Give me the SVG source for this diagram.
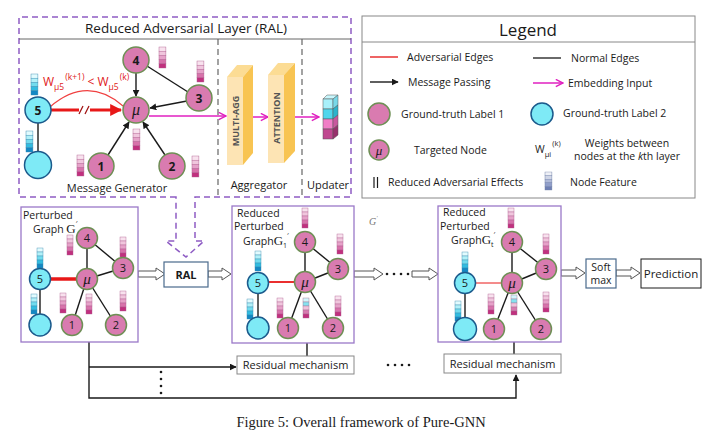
<svg xmlns="http://www.w3.org/2000/svg" xmlns:xlink="http://www.w3.org/1999/xlink" width="718" height="444" viewBox="0 0 718 444">
<style>
.sans{font-family:"Open Sans","Noto Sans","DejaVu Sans",sans-serif;fill:#1a1a1a}
.serif{font-family:"Liberation Serif","Times New Roman",serif;fill:#1a1a1a}
.np{fill:#d97bb0;stroke:#6e8f55;stroke-width:1.5}
.nc{fill:#7eeaf6;stroke:#1b5a8c;stroke-width:1.5}
.edge{stroke:#1a1a1a;stroke-width:1.4;fill:none}
.panel{fill:#fff;stroke:#9a78c8;stroke-width:1.3}
.hollow{fill:#fff;stroke:#555;stroke-width:1}
.mag{stroke:#e020c0;stroke-width:1.5;fill:none}
.box{fill:#fff;stroke:#888;stroke-width:1}
</style>
<defs>
<marker id="ab" viewBox="0 0 10 10" refX="9" refY="5" markerWidth="7" markerHeight="7" markerUnits="userSpaceOnUse" orient="auto"><path d="M0,0 L10,5 L0,10 Z" fill="#1a1a1a"/></marker>
<marker id="ar" viewBox="0 0 10 10" refX="9" refY="5" markerWidth="4" markerHeight="4" orient="auto"><path d="M0,0 L10,5 L0,10 Z" fill="#e81818"/></marker>
<marker id="am" viewBox="0 0 10 10" refX="9" refY="5" markerWidth="9" markerHeight="9" markerUnits="userSpaceOnUse" orient="auto"><path d="M1,1 L9,5 L1,9" fill="none" stroke="#e020c0" stroke-width="1.6"/></marker>
<g id="bp" stroke="#b06090" stroke-width="0.4"><rect x="0" y="0" width="6" height="4" fill="#f8e2ee"/><rect x="0" y="4" width="6" height="4" fill="#f0c6dd"/><rect x="0" y="8" width="6" height="4" fill="#e6a2c9"/><rect x="0" y="12" width="6" height="4" fill="#d872ab"/><rect x="0" y="16" width="6" height="4" fill="#c0307e"/></g>
<g id="bc" stroke="#3a8ab0" stroke-width="0.4"><rect x="0" y="0" width="6" height="4" fill="#e2fbfe"/><rect x="0" y="4" width="6" height="4" fill="#b2f0f8"/><rect x="0" y="8" width="6" height="4" fill="#72dcee"/><rect x="0" y="12" width="6" height="4" fill="#32bce0"/><rect x="0" y="16" width="6" height="4" fill="#1488c4"/></g>
<g id="bm" stroke="#a07090" stroke-width="0.4"><rect x="0" y="0" width="6" height="4" fill="#d2f6fb"/><rect x="0" y="4" width="6" height="4" fill="#86e2ef"/><rect x="0" y="8" width="6" height="4" fill="#f0c2dc"/><rect x="0" y="12" width="6" height="4" fill="#d87ab0"/><rect x="0" y="16" width="6" height="4" fill="#c0307e"/></g>
<g id="bg" stroke="#7080a8" stroke-width="0.4"><rect x="0" y="0" width="6" height="4" fill="#eef0f6"/><rect x="0" y="4" width="6" height="4" fill="#cfd5e6"/><rect x="0" y="8" width="6" height="4" fill="#b0bad8"/><rect x="0" y="12" width="6" height="4" fill="#919fca"/><rect x="0" y="16" width="6" height="4" fill="#6f80b4"/></g>
</defs>
<rect width="718" height="444" fill="#fff"/>

<!-- RAL -->
<g id="ral">
<path d="M176,197 H19 V17 H351 V197 H195 V241 H204 L186,257 L166,241 H176 Z" fill="none" stroke="#8e5cc4" stroke-width="1.5" stroke-dasharray="6,4"/>
<line x1="19" y1="39" x2="351" y2="39" stroke="#666" stroke-width="1"/>
<line x1="218" y1="39" x2="218" y2="197" stroke="#666" stroke-width="1.2" stroke-dasharray="6,4"/>
<line x1="302" y1="39" x2="302" y2="197" stroke="#666" stroke-width="1.2" stroke-dasharray="6,4"/>
<text class="sans" x="186" y="33" font-size="13.5" text-anchor="middle">Reduced Adversarial Layer (RAL)</text>
<text class="sans" x="117" y="192" font-size="11" text-anchor="middle">Message Generator</text>
<text class="sans" x="259" y="189" font-size="11" text-anchor="middle">Aggregator</text>
<text class="sans" x="328" y="189" font-size="11" text-anchor="middle">Updater</text>
</g>

<g id="ral-edges">
<line class="edge" x1="136" y1="73" x2="136" y2="96" marker-end="url(#ab)"/>
<line class="edge" x1="147" y1="66" x2="188" y2="92"/>
<line class="edge" x1="187" y1="101" x2="150" y2="108" marker-end="url(#ab)"/>
<line class="edge" x1="108" y1="155" x2="129" y2="122" marker-end="url(#ab)"/>
<line class="edge" x1="165" y1="155" x2="143" y2="122" marker-end="url(#ab)"/>
<line class="edge" x1="38" y1="123" x2="38" y2="152"/>
<path d="M50,107 Q87,75 123,106" fill="none" stroke="#f04040" stroke-width="1.2"/>
<line x1="51" y1="110" x2="121" y2="110" stroke="#e81818" stroke-width="3" marker-end="url(#ar)"/>
<rect x="79" y="106" width="11" height="8" fill="#fff"/>
<line x1="79" y1="114" x2="83" y2="106" stroke="#a01010" stroke-width="1.2"/>
<line x1="85" y1="114" x2="89" y2="106" stroke="#a01010" stroke-width="1.2"/>
<line class="mag" x1="149" y1="116" x2="226" y2="116" marker-end="url(#am)"/>
<line class="mag" x1="253" y1="117" x2="268" y2="117" marker-end="url(#am)"/>
<line class="mag" x1="295" y1="117" x2="319" y2="117" marker-end="url(#am)"/>
</g>
<text class="sans" x="43" y="86" font-size="12" style="fill:#e02020">W<tspan font-size="8.5" dy="4">μ5</tspan><tspan font-size="8.5" dy="-10" dx="1">(k+1)</tspan><tspan dy="6"> &lt; W</tspan><tspan font-size="8.5" dy="4">μ5</tspan><tspan font-size="8.5" dy="-10" dx="1">(k)</tspan></text>

<g id="ral-nodes">
<use href="#bp" transform="translate(159,47) scale(1.15,1.05)"/>
<use href="#bp" transform="translate(197,61) scale(1.15,1.05)"/>
<use href="#bc" transform="translate(31,74) scale(1.15,1.05)"/>
<use href="#bc" transform="translate(26,131) scale(1.15,1.05)"/>
<use href="#bp" transform="translate(133,129) scale(1.15,1.05)"/>
<use href="#bp" transform="translate(77,155) scale(1.15,1.05)"/>
<use href="#bp" transform="translate(192,156) scale(1.15,1.05)"/>
<g id="r-n4"><circle class="np" cx="136" cy="60" r="13"/><text class="sans" x="136" y="64.5" font-size="12" font-weight="bold" text-anchor="middle">4</text></g>
<g id="r-n3"><circle class="np" cx="199" cy="98" r="13"/><text class="sans" x="199" y="102.5" font-size="12" font-weight="bold" text-anchor="middle">3</text></g>
<g id="r-mu"><circle class="np" cx="136" cy="110" r="13"/><text class="serif" x="136" y="115" font-size="16" font-style="italic" text-anchor="middle">μ</text></g>
<g id="r-n5"><circle class="nc" cx="38" cy="110" r="13"/><text class="sans" x="38" y="114.5" font-size="12" font-weight="bold" text-anchor="middle">5</text></g>
<g id="r-n6"><circle class="nc" cx="38" cy="165" r="13.5"/></g>
<g id="r-n1"><circle class="np" cx="101" cy="166" r="13"/><text class="sans" x="101" y="170.5" font-size="12" font-weight="bold" text-anchor="middle">1</text></g>
<g id="r-n2"><circle class="np" cx="172" cy="166" r="13"/><text class="sans" x="172" y="170.5" font-size="12" font-weight="bold" text-anchor="middle">2</text></g>
</g>

<g id="multi-agg">
<polygon points="227,77 237,65 253,65 243,77" fill="#fcdc94"/>
<polygon points="243,77 253,65 253,153 243,165" fill="#f8c452"/>
<rect x="227" y="77" width="16" height="88" fill="#fde4b4"/>
<text class="sans" transform="translate(238.5,121) rotate(-90)" font-size="9" font-weight="bold" text-anchor="middle" style="fill:#555">MULTI-AGG</text>
</g>
<g id="attention">
<polygon points="268,75 278,63 295,63 284,75" fill="#fcdc94"/>
<polygon points="284,75 295,63 295,151 284,163" fill="#f8c452"/>
<rect x="268" y="75" width="16" height="88" fill="#fde4b4"/>
<text class="sans" transform="translate(279.5,118) rotate(-90)" font-size="9" font-weight="bold" text-anchor="middle" style="fill:#555">ATTENTION</text>
</g>
<g id="updater" stroke="#555" stroke-width="0.5">
<polygon points="323,99 327,95 338,95 333,99" fill="#c8f6fc"/>
<rect x="323" y="99" width="10" height="10" fill="#a8f0fa"/>
<rect x="323" y="109" width="10" height="10" fill="#50d6ec"/>
<rect x="323" y="119" width="10" height="10" fill="#f07ec6"/>
<rect x="323" y="129" width="10" height="10" fill="#c04890"/>
<polygon points="333,99 338,95 338,105 333,109" fill="#78d8e8"/>
<polygon points="333,109 338,105 338,115 333,119" fill="#2cb4cc"/>
<polygon points="333,119 338,115 338,125 333,129" fill="#c8589e"/>
<polygon points="333,129 338,125 338,135 333,139" fill="#98306c"/>
</g>

<!-- Legend -->
<g id="legend">
<rect x="362" y="16" width="333" height="182" fill="#fff" stroke="#888" stroke-width="1"/>
<line x1="362" y1="42" x2="695" y2="42" stroke="#888" stroke-width="1"/>
<text class="sans" x="528" y="36" font-size="17" text-anchor="middle">Legend</text>
<line x1="370" y1="57" x2="398" y2="57" stroke="#e83030" stroke-width="1.5"/>
<text class="sans" x="407" y="61" font-size="10.5">Adversarial Edges</text>
<line x1="533" y1="58" x2="561" y2="58" stroke="#1a1a1a" stroke-width="1.3"/>
<text class="sans" x="571" y="62" font-size="10.5">Normal Edges</text>
<line x1="370" y1="82" x2="398" y2="82" stroke="#1a1a1a" stroke-width="1.4" marker-end="url(#ab)"/>
<text class="sans" x="408" y="86" font-size="10.5">Message Passing</text>
<line class="mag" x1="533" y1="83" x2="563" y2="83" marker-end="url(#am)"/>
<text class="sans" x="568" y="87" font-size="10.5">Embedding Input</text>
<circle class="np" cx="379" cy="114" r="11"/>
<text class="sans" x="401" y="118" font-size="10.5">Ground-truth Label 1</text>
<circle class="nc" cx="542" cy="114" r="11"/>
<text class="sans" x="563" y="117" font-size="10.5">Ground-truth Label 2</text>
<circle class="np" cx="379" cy="150" r="10"/>
<text class="serif" x="379" y="154.5" font-size="13" font-style="italic" text-anchor="middle">μ</text>
<text class="sans" x="414" y="154" font-size="10.5">Targeted Node</text>
<text class="sans" x="535" y="153" font-size="10.5">W<tspan font-size="7.5" dy="4">μi</tspan><tspan font-size="7.5" dy="-11" dx="1">(k)</tspan></text>
<text class="sans" x="627" y="147" font-size="10.5" text-anchor="middle">Weights between</text>
<text class="sans" x="627" y="160" font-size="10.5" text-anchor="middle">nodes at the <tspan font-style="italic">k</tspan>th layer</text>
<line x1="374" y1="177" x2="374" y2="188" stroke="#1a1a1a" stroke-width="1.2"/>
<line x1="377.5" y1="177" x2="377.5" y2="188" stroke="#1a1a1a" stroke-width="1.2"/>
<text class="sans" x="388" y="186" font-size="10.5">Reduced Adversarial Effects</text>
<use href="#bg" transform="translate(545,172) scale(1.15,0.9)"/>
<text class="sans" x="570" y="186" font-size="10.5">Node Feature</text>
</g>

<!-- connectors of bottom row -->
<g id="connectors">
<path class="hollow" d="M138,271 H156 V268 L165,274 L156,280 V277 H138 Z"/>
<path class="hollow" d="M208,271 H222 V268 L231,274 L222,280 V277 H208 Z"/>
<path class="hollow" d="M354,271 H374 V268 L383,274 L374,280 V277 H354 Z"/>
<path class="hollow" d="M412,271 H429 V268 L438,274 L429,280 V277 H412 Z"/>
<path class="hollow" d="M561,270 H576 V267 L585,273 L576,279 V276 H561 Z"/>
<path class="hollow" d="M616,270 H631 V267 L640,273 L631,279 V276 H616 Z"/>
<polyline class="edge" points="89,314 89,398 516,398 516,375" marker-end="url(#ab)"/>
<line class="edge" x1="89" y1="367" x2="236" y2="367" marker-end="url(#ab)"/>
<line class="edge" x1="307" y1="356" x2="307" y2="319" marker-end="url(#ab)"/>
<line class="edge" x1="514" y1="354" x2="514" y2="316" marker-end="url(#ab)"/>
<g fill="#1a1a1a">
<circle cx="161" cy="372" r="1.3"/><circle cx="161" cy="379" r="1.3"/><circle cx="161" cy="386" r="1.3"/><circle cx="161" cy="393" r="1.3"/>
<circle cx="388" cy="365" r="1.3"/><circle cx="395" cy="365" r="1.3"/><circle cx="402" cy="365" r="1.3"/><circle cx="409" cy="365" r="1.3"/>
<circle cx="387" cy="274" r="1.3"/><circle cx="394" cy="274" r="1.3"/><circle cx="401" cy="274" r="1.3"/><circle cx="408" cy="274" r="1.3"/>
</g>
</g>

<g id="ral-box">
<rect x="164" y="262" width="44" height="25" fill="#fff" stroke="#4a6a8c" stroke-width="1.2"/>
<text class="sans" x="186" y="279" font-size="11" font-weight="bold" text-anchor="middle">RAL</text>
</g>
<g id="residual-1">
<rect class="box" x="237" y="356" width="117" height="18"/>
<text class="sans" x="295.5" y="369" font-size="11" text-anchor="middle">Residual mechanism</text>
</g>
<g id="residual-2">
<rect class="box" x="444" y="354" width="117" height="19"/>
<text class="sans" x="502.5" y="367.5" font-size="11" text-anchor="middle">Residual mechanism</text>
</g>
<g id="softmax">
<rect x="586" y="259" width="30" height="29" fill="#fff" stroke="#4a6a8c" stroke-width="1.2"/>
<text class="sans" x="601" y="271" font-size="10.5" text-anchor="middle">Soft</text>
<text class="sans" x="601" y="284" font-size="10.5" text-anchor="middle">max</text>
</g>
<g id="prediction">
<rect x="641" y="259" width="60" height="29" fill="#fff" stroke="#1a1a1a" stroke-width="1"/>
<text class="sans" x="671" y="278" font-size="11.5" text-anchor="middle">Prediction</text>
</g>

<!-- Panel 1 -->
<g id="panel-1">
<rect class="panel" x="21" y="207" width="117" height="135"/>
<text class="sans" x="23" y="219" font-size="10.5">Perturbed</text>
<text class="sans" x="33" y="233" font-size="10.5">Graph <tspan class="serif" font-size="13">G</tspan><tspan font-size="7" dy="-7">′</tspan></text>
<line class="edge" x1="87" y1="238" x2="87" y2="279"/>
<line class="edge" x1="87" y1="238" x2="123" y2="268"/>
<line class="edge" x1="87" y1="279" x2="123" y2="268"/>
<line class="edge" x1="87" y1="279" x2="72" y2="325"/>
<line class="edge" x1="87" y1="279" x2="116" y2="325"/>
<line class="edge" x1="40" y1="279" x2="40" y2="325"/>
<line x1="51" y1="279" x2="77" y2="279" stroke="#e81818" stroke-width="3.5"/>
<use href="#bp" x="67" y="235"/><use href="#bp" x="120" y="237"/><use href="#bc" x="37" y="248"/><use href="#bc" x="31" y="294"/><use href="#bp" x="60" y="293"/><use href="#bp" x="86" y="294"/><use href="#bp" x="120" y="291"/>
<circle class="np" cx="87" cy="238" r="10.5"/><text class="sans" x="87" y="242" font-size="11" text-anchor="middle">4</text>
<circle class="np" cx="123" cy="268" r="10.5"/><text class="sans" x="123" y="272" font-size="11" text-anchor="middle">3</text>
<circle class="np" cx="87" cy="279" r="10.5"/><text class="serif" x="87" y="284" font-size="15" font-style="italic" text-anchor="middle">μ</text>
<circle class="nc" cx="40" cy="279" r="10.5"/><text class="sans" x="40" y="283" font-size="11" text-anchor="middle">5</text>
<circle class="nc" cx="40" cy="325" r="11"/>
<circle class="np" cx="72" cy="325" r="10.5"/><text class="sans" x="72" y="329" font-size="11" text-anchor="middle">1</text>
<circle class="np" cx="116" cy="325" r="10.5"/><text class="sans" x="116" y="329" font-size="11" text-anchor="middle">2</text>
</g>

<!-- Panel 2 -->
<g id="panel-2">
<rect class="panel" x="232" y="206" width="122" height="137"/>
<text class="sans" x="237" y="217" font-size="10.5">Reduced</text>
<text class="sans" x="234" y="230" font-size="10.5">Perturbed</text>
<text class="sans" x="243" y="245" font-size="10.5">Graph<tspan class="serif" font-size="13">G</tspan><tspan font-size="7" dy="3">1</tspan><tspan font-size="7" dy="-10">′</tspan></text>
<line class="edge" x1="305" y1="242" x2="305" y2="282"/>
<line class="edge" x1="305" y1="242" x2="338" y2="269"/>
<line class="edge" x1="305" y1="282" x2="338" y2="269"/>
<line class="edge" x1="305" y1="282" x2="288" y2="328"/>
<line class="edge" x1="305" y1="282" x2="333" y2="328"/>
<line class="edge" x1="258" y1="283" x2="258" y2="328"/>
<line x1="269" y1="282" x2="295" y2="282" stroke="#e81818" stroke-width="1.8"/>
<use href="#bp" x="302" y="208"/><use href="#bp" x="337" y="234"/><use href="#bc" x="255" y="251"/><use href="#bc" x="247" y="299"/><use href="#bp" x="277" y="298"/><use href="#bm" x="303" y="298"/><use href="#bp" x="335" y="296"/>
<circle class="np" cx="305" cy="242" r="10.5"/><text class="sans" x="305" y="246" font-size="11" text-anchor="middle">4</text>
<circle class="np" cx="338" cy="269" r="10.5"/><text class="sans" x="338" y="273" font-size="11" text-anchor="middle">3</text>
<circle class="np" cx="305" cy="282" r="10.5"/><text class="serif" x="305" y="287" font-size="15" font-style="italic" text-anchor="middle">μ</text>
<circle class="nc" cx="258" cy="283" r="10.5"/><text class="sans" x="258" y="287" font-size="11" text-anchor="middle">5</text>
<circle class="nc" cx="258" cy="328" r="11"/>
<circle class="np" cx="288" cy="328" r="10.5"/><text class="sans" x="288" y="332" font-size="11" text-anchor="middle">1</text>
<circle class="np" cx="333" cy="328" r="10.5"/><text class="sans" x="333" y="332" font-size="11" text-anchor="middle">2</text>
</g>
<text class="serif" x="369" y="225" font-size="10" font-style="italic" style="fill:#777">G<tspan font-size="6" dy="-5">′</tspan></text>

<!-- Panel 3 -->
<g id="panel-3">
<rect class="panel" x="438" y="206" width="123" height="136"/>
<text class="sans" x="443" y="216" font-size="10.5">Reduced</text>
<text class="sans" x="440" y="230" font-size="10.5">Perturbed</text>
<text class="sans" x="451" y="244" font-size="10.5">Graph<tspan class="serif" font-size="13">G</tspan><tspan font-size="7" dy="3">t</tspan><tspan font-size="7" dy="-10">′</tspan></text>
<line class="edge" x1="512" y1="242" x2="512" y2="283"/>
<line class="edge" x1="512" y1="242" x2="546" y2="269"/>
<line class="edge" x1="512" y1="283" x2="546" y2="269"/>
<line class="edge" x1="512" y1="283" x2="494" y2="329"/>
<line class="edge" x1="512" y1="283" x2="541" y2="329"/>
<line class="edge" x1="465" y1="283" x2="465" y2="329"/>
<line x1="476" y1="283" x2="502" y2="283" stroke="#e81818" stroke-width="1"/>
<use href="#bp" x="508" y="208"/><use href="#bp" x="543" y="234"/><use href="#bc" x="462" y="252"/><use href="#bc" x="455" y="301"/><use href="#bp" x="488" y="294"/><use href="#bm" x="511" y="295"/><use href="#bp" x="543" y="292"/>
<circle class="np" cx="512" cy="242" r="10.5"/><text class="sans" x="512" y="246" font-size="11" text-anchor="middle">4</text>
<circle class="np" cx="546" cy="269" r="10.5"/><text class="sans" x="546" y="273" font-size="11" text-anchor="middle">3</text>
<circle class="np" cx="512" cy="283" r="10.5"/><text class="serif" x="512" y="288" font-size="15" font-style="italic" text-anchor="middle">μ</text>
<circle class="nc" cx="465" cy="283" r="10.5"/><text class="sans" x="465" y="287" font-size="11" text-anchor="middle">5</text>
<circle class="nc" cx="465" cy="329" r="11.5"/>
<circle class="np" cx="494" cy="329" r="10.5"/><text class="sans" x="494" y="333" font-size="11" text-anchor="middle">1</text>
<circle class="np" cx="541" cy="329" r="10.5"/><text class="sans" x="541" y="333" font-size="11" text-anchor="middle">2</text>
</g>

<text class="serif" x="361" y="427" font-size="14.5" text-anchor="middle">Figure 5: Overall framework of Pure-GNN</text>
</svg>
